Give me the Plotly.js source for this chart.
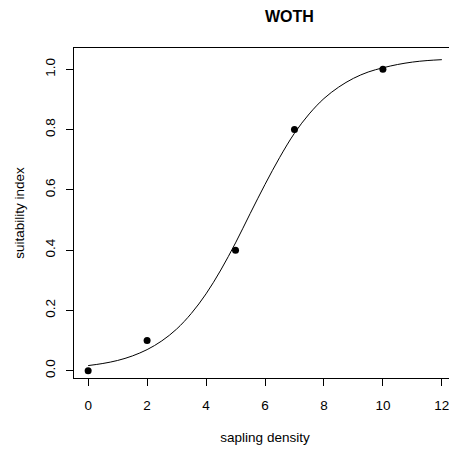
<!DOCTYPE html>
<html>
<head>
<meta charset="utf-8">
<script src="https://cdn.plot.ly/plotly-3.0.1.min.js"></script>
<style>
html,body{margin:0;padding:0;overflow:hidden;background:#fff;}
#chart{width:470px;height:451px;}
</style>
</head>
<body>
<div id="chart"></div>
<script>
// observed data points
const obsDensity = [0, 2, 5, 7, 10];
const obsSuitability = [0, 0.1, 0.4, 0.8, 1.0];

// fitted curve
const curveDensity = [0, 0.5, 1, 1.5, 2, 2.5, 3, 3.5, 4, 4.5, 5, 5.5, 6, 6.5, 7, 7.5, 8, 8.5, 9, 9.5, 10, 10.5, 11, 11.5, 12];
const curveSuitability = [0.017, 0.024, 0.034, 0.049, 0.070, 0.099, 0.138, 0.190, 0.255, 0.334, 0.424, 0.522, 0.618, 0.708, 0.788, 0.852, 0.903, 0.941, 0.970, 0.991, 1.005, 1.016, 1.024, 1.029, 1.032];

const xTicks = [0, 2, 4, 6, 8, 10, 12];
const yTicks = [0, 0.2, 0.4, 0.6, 0.8, 1.0];
const yTickText = ["0.0", "0.2", "0.4", "0.6", "0.8", "1.0"];

const font = {family: "Liberation Sans, Arial, sans-serif", size: 13.5, color: "#000"};

const traces = [
  {
    x: curveDensity, y: curveSuitability, type: "scatter", mode: "lines",
    line: {color: "#000", width: 1, shape: "spline"}, hoverinfo: "skip"
  },
  {
    x: obsDensity, y: obsSuitability, type: "scatter", mode: "markers",
    marker: {color: "#000", size: 7}
  }
];

const layout = {
  width: 470, height: 451,
  margin: {l: 74, r: 14, t: 48, b: 73},
  paper_bgcolor: "#fff", plot_bgcolor: "#fff",
  showlegend: false,
  font: font,
  title: {
    text: "<b>WOTH</b>", font: {family: "Liberation Sans, Arial, sans-serif", size: 16, color: "#000"},
    x: 265/470, xref: "paper", y: 1 - 16/451, yref: "container", xanchor: "center", yanchor: "middle"
  },
  xaxis: {
    range: [-0.48, 12.48], tickvals: xTicks, ticktext: xTicks.map(String),
    showgrid: false, zeroline: false, showline: true, mirror: true, linecolor: "#000", linewidth: 1,
    ticks: "outside", ticklen: 7, tickcolor: "#000", tickwidth: 1,
    tickfont: font, ticklabelstandoff: 8,
    title: {text: "sapling density", font: font, standoff: 20}
  },
  yaxis: {
    range: [-0.0242, 1.0707], tickvals: yTicks, ticktext: yTickText, tickangle: -90,
    showgrid: false, zeroline: false, showline: true, mirror: true, linecolor: "#000", linewidth: 1,
    ticks: "outside", ticklen: 7, tickcolor: "#000", tickwidth: 1,
    tickfont: font, ticklabelstandoff: 6,
    title: {text: "suitability index", font: font, standoff: 14}
  }
};

Plotly.newPlot("chart", traces, layout, {staticPlot: true, displayModeBar: false});
</script>
</body>
</html>
